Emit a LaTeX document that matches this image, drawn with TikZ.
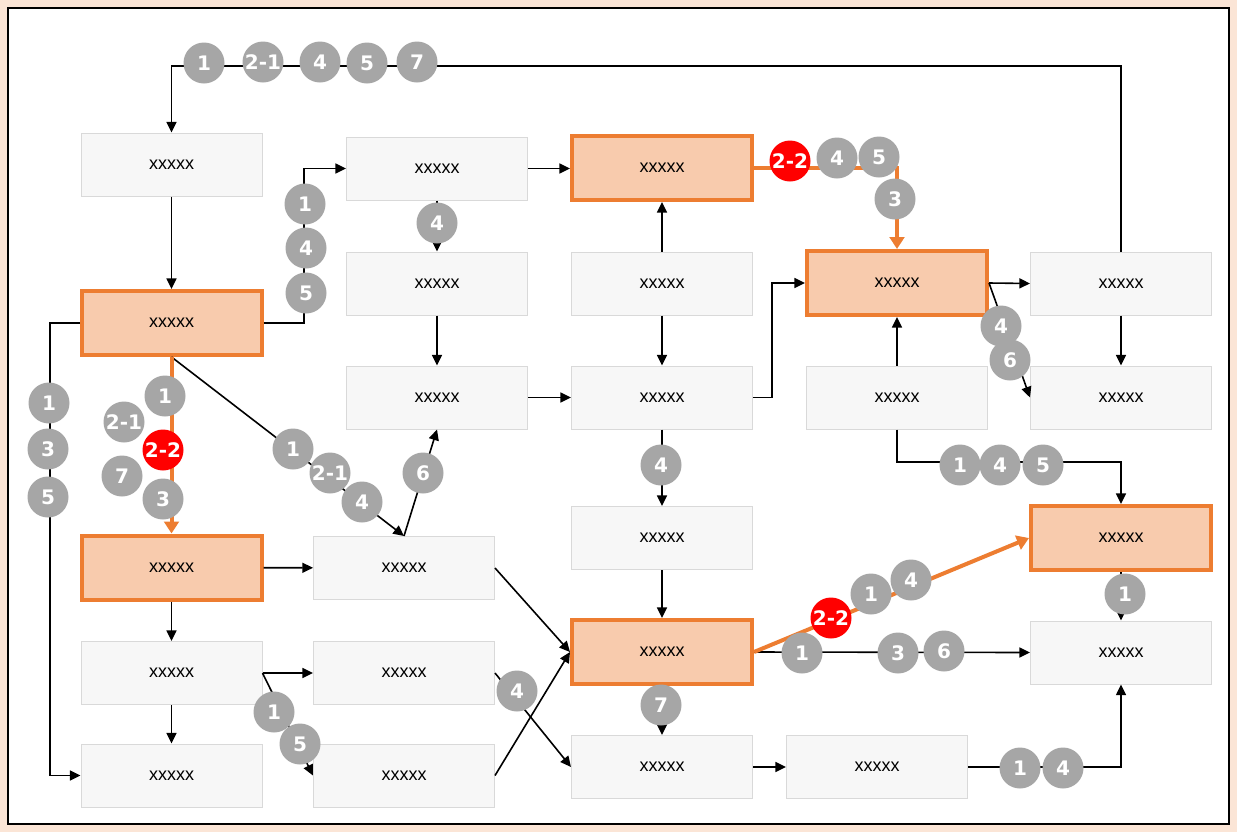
\documentclass[tikz,border=0pt]{standalone}
\usepackage{fontspec}
\setmainfont{Liberation Sans}
\newfontfamily\numfont{DejaVu Sans}
\usetikzlibrary{arrows.meta}
\definecolor{peach}{HTML}{FBE5D6}
\definecolor{orng}{HTML}{ED7D31}
\definecolor{orfill}{HTML}{F8CBAD}
\definecolor{boxfill}{HTML}{F7F7F7}
\definecolor{boxline}{HTML}{D9D9D9}
\definecolor{cgray}{HTML}{A6A6A6}
\definecolor{cred}{HTML}{FF0000}
\begin{document}
\begin{tikzpicture}[x=0.75pt,y=-0.75pt,
  box/.style={draw=boxline, line width=0.75pt, fill=boxfill, minimum width=135.75pt, minimum height=47.25pt, inner sep=0pt, font=\fontsize{13.5}{13.5}\selectfont},
  hot/.style={draw=orng, line width=3pt, fill=orfill, minimum width=135pt, minimum height=48pt, inner sep=0pt, font=\fontsize{13.5}{13.5}\selectfont},
  badge/.style={circle, fill=cgray, text=white, minimum size=30.75pt, inner sep=0pt, font=\numfont\bfseries\fontsize{15}{15}\selectfont},
  redbadge/.style={badge, fill=cred},
  conn/.style={line width=1.2pt, -{Triangle[length=8pt,width=7.5pt]}},
  oconn/.style={draw=orng, line width=3pt, -{Triangle[length=9pt,width=11pt]}}]
\useasboundingbox (0,0) rectangle (1237,832);
\fill[peach] (0,0) rectangle (1237,832);
\draw[line width=1.1pt, fill=white] (8,8) rectangle (1229,824);

% boxes
\node[box] (A1) at (171.5,164.5) {xxxxx};
\node[hot] (A2) at (171.5,323) {xxxxx};
\node[hot] (A3) at (171.5,567.5) {xxxxx};
\node[box] (A4) at (171.5,673) {xxxxx};
\node[box] (A5) at (171.5,775.5) {xxxxx};
\node[box] (B1) at (437,168.5) {xxxxx};
\node[box] (B2) at (437,283.5) {xxxxx};
\node[box] (B3) at (437,397.5) {xxxxx};
\node[box] (C1) at (404,568) {xxxxx};
\node[box] (C2) at (404,673) {xxxxx};
\node[box] (C3) at (404,775.5) {xxxxx};
\node[hot] (D1) at (662,168) {xxxxx};
\node[box] (D2) at (662,283.5) {xxxxx};
\node[box] (D3) at (662,397.5) {xxxxx};
\node[box] (D4) at (662,538) {xxxxx};
\node[hot] (D5) at (662,652) {xxxxx};
\node[box] (D6) at (662,767) {xxxxx};
\node[hot] (E1) at (897,283) {xxxxx};
\node[box] (E2) at (897,397.5) {xxxxx};
\node[box] (E3) at (877,767) {xxxxx};
\node[box] (F1) at (1121,283.5) {xxxxx};
\node[box] (F2) at (1121,397.5) {xxxxx};
\node[hot] (F3) at (1121,538) {xxxxx};
\node[box] (F4) at (1121,652.5) {xxxxx};

% bend points
\coordinate (t1) at (1121,66);
\coordinate (t2) at (171.5,66);
\coordinate (r1) at (304,323);
\coordinate (r2) at (304,168.5);
\coordinate (l1) at (50,323);
\coordinate (l2) at (50,775.5);
\coordinate (d1) at (772,397.5);
\coordinate (d2) at (772,283);
\coordinate (o1) at (897,168);
\coordinate (e1) at (897,462);
\coordinate (e2) at (1121,462);
\coordinate (g1) at (1121,767);

% connectors
\draw[conn] (F1.north) -- (t1) -- (t2) -- (A1.north);
\draw[conn] (A1) -- (A2);
\draw[conn] (A2.east) -- (r1) -- (r2) -- (B1.west);
\draw[conn] (A2.west) -- (l1) -- (l2) -- (A5.west);
\draw[conn] (A2.south) -- (C1.north);
\draw[conn] (C1.north) -- (B3.south);
\draw[conn] (B1) -- (B2);
\draw[conn] (B2) -- (B3);
\draw[conn] (B3) -- (D3);
\draw[conn] (B1.east) -- (B1.east -| D1.west);
\draw[conn] (D2) -- (D1);
\draw[conn] (D2) -- (D3);
\draw[conn] (D3) -- (D4);
\draw[conn] (D4) -- (D5);
\draw[conn] (D3.east) -- (d1) -- (d2) -- (E1.west);
\draw[conn] (E1.east) -- (F1.west);
\draw[conn] (E1.east) -- (F2.west);
\draw[conn] (F1) -- (F2);
\draw[conn] (E2) -- (E1);
\draw[conn] (E2.south) -- (e1) -- (e2) -- (F3.north);
\draw[conn] (F3) -- (F4);
\draw[conn] (D5.east) -- (F4.west);
\draw[conn] (E3.east) -- (g1) -- (F4.south);
\draw[conn] (D6) -- (E3);
\draw[conn] (D5) -- (D6);
\draw[conn] (A3) -- (C1);
\draw[conn] (A3) -- (A4);
\draw[conn] (A4) -- (A5);
\draw[conn] (A4.east) -- (C2.west);
\draw[conn] (A4.east) -- (C3.west);
\draw[conn] (C1.east) -- (D5.west);
\draw[conn] (C2.east) -- (D6.west);
\draw[conn] (C3.east) -- (D5.west);
\draw[oconn] (A2.south) -- (A3.north);
\draw[oconn] (D1.east) -- (o1) -- (E1.north);
\draw[oconn] (D5.east) -- (F3.west);

% badges
\node[badge] (n1) at (204,63) {1};
\node[badge] (n2) at (263,62) {2-1};
\node[badge] (n3) at (320,62) {4};
\node[badge] (n4) at (367,63) {5};
\node[badge] (n5) at (417,62) {7};

\node[badge] (n6) at (305,204) {1};
\node[badge] (n7) at (306,248) {4};
\node[badge] (n8) at (306,293) {5};

\node[badge] (n9) at (437,223) {4};

\node[badge] (n10) at (49,403) {1};
\node[badge] (n11) at (48,449) {3};
\node[badge] (n12) at (48,497) {5};

\node[badge] (n13) at (165,396) {1};
\node[badge] (n14) at (124,422) {2-1};
\node[redbadge] (n15) at (163,450) {2-2};
\node[badge] (n16) at (122,476) {7};
\node[badge] (n17) at (163,499) {3};

\node[badge] (n18) at (293,449) {1};
\node[badge] (n19) at (330,473) {2-1};
\node[badge] (n20) at (362,502) {4};
\node[badge] (n21) at (423,473) {6};

\node[redbadge] (n22) at (790,161) {2-2};
\node[badge] (n23) at (837,158) {4};
\node[badge] (n24) at (879,157) {5};
\node[badge] (n25) at (895,199) {3};

\node[badge] (n26) at (661,465) {4};

\node[badge] (n27) at (1001,326) {4};
\node[badge] (n28) at (1010,360) {6};

\node[badge] (n29) at (960,465) {1};
\node[badge] (n30) at (1000,465) {4};
\node[badge] (n31) at (1043,465) {5};

\node[badge] (n32) at (1125,594) {1};

\node[redbadge] (n33) at (831,618) {2-2};
\node[badge] (n34) at (871,594) {1};
\node[badge] (n35) at (911,580) {4};

\node[badge] (n36) at (802,653) {1};
\node[badge] (n37) at (898,653) {3};
\node[badge] (n38) at (944,651) {6};

\node[badge] (n39) at (661,705) {7};

\node[badge] (n40) at (274,712) {1};
\node[badge] (n41) at (300,744) {5};
\node[badge] (n42) at (517,691) {4};

\node[badge] (n43) at (1020,768) {1};
\node[badge] (n44) at (1063,768) {4};
\end{tikzpicture}
\end{document}
